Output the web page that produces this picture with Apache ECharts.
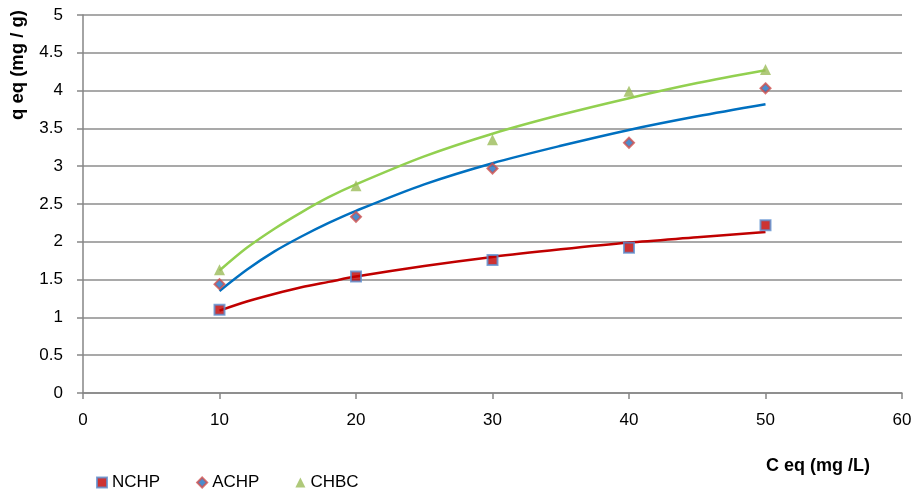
<!DOCTYPE html>
<html>
<head>
<meta charset="utf-8">
<script src="https://cdn.jsdelivr.net/npm/echarts@6/dist/echarts.min.js"></script>
<style>html,body{margin:0;padding:0;background:#fff}#c{width:916px;height:495px}</style>
</head>
<body>
<div id="c"></div>
<script>
const xValues = [10, 20, 30, 40, 50];
const nchp = [1.10, 1.54, 1.76, 1.92, 2.22];
const achp = [1.44, 2.33, 2.97, 3.31, 4.03];
const chbc = [1.63, 2.74, 3.35, 3.99, 4.28];
// trendlines
const trendX = [10, 12, 14, 16, 18, 20, 25, 30, 35, 40, 45, 50];
const trendNchp = [1.09, 1.21, 1.31, 1.40, 1.47, 1.54, 1.68, 1.80, 1.90, 1.99, 2.06, 2.13];
const trendAchp = [1.35, 1.63, 1.87, 2.07, 2.25, 2.41, 2.76, 3.04, 3.27, 3.48, 3.66, 3.82];
const trendChbc = [1.62, 1.92, 2.17, 2.39, 2.59, 2.76, 3.13, 3.43, 3.68, 3.90, 4.10, 4.27];
const seriesNames = ['NCHP', 'ACHP', 'CHBC'];
const xTitle = 'C eq (mg /L)';
const yTitle = 'q eq (mg / g)';

const pair = (xs, ys) => xs.map((x, i) => [x, ys[i]]);
const FONT = 'Liberation Sans';

const chart = echarts.init(document.getElementById('c'), null, {renderer: 'canvas'});
chart.setOption({
  animation: false,
  backgroundColor: '#fff',
  textStyle: {fontFamily: FONT},
  grid: {left: 83, right: 14, top: 15, bottom: 102, containLabel: false},
  xAxis: {
    type: 'value', min: 0, max: 60, interval: 10,
    axisLine: {show: true, lineStyle: {color: '#868686', width: 1.5}},
    axisTick: {show: true, length: 6, lineStyle: {color: '#868686', width: 1.5}},
    axisLabel: {color: '#000', fontSize: 17, margin: 19, fontFamily: FONT},
    splitLine: {show: false}
  },
  yAxis: {
    type: 'value', min: 0, max: 5, interval: 0.5,
    axisLine: {show: true, lineStyle: {color: '#868686', width: 1.5}},
    axisTick: {show: true, length: 6, lineStyle: {color: '#868686', width: 1.5}},
    axisLabel: {color: '#000', fontSize: 17, margin: 20, fontFamily: FONT},
    splitLine: {show: true, lineStyle: {color: '#8c8c8c', width: 1.5}}
  },
  legend: {
    data: [
      {name: 'NCHP', icon: 'rect'},
      {name: 'ACHP', icon: 'diamond'},
      {name: 'CHBC', icon: 'triangle'}
    ],
    left: 96, top: 474, padding: 0, itemWidth: 10, itemHeight: 10, itemGap: 36,
    textStyle: {fontSize: 17, color: '#000', fontFamily: FONT}
  },
  graphic: [
    {type: 'text', left: 8, top: 10, rotation: Math.PI / 2,
      style: {text: yTitle, font: 'bold 18.5px ' + FONT, fill: '#000'}},
    {type: 'text', right: 46, top: 457,
      style: {text: xTitle, font: 'bold 18px ' + FONT, fill: '#000'}}
  ],
  series: [
    {name: 'trend-NCHP', type: 'line', data: pair(trendX, trendNchp), smooth: 0.3, symbol: 'none',
      lineStyle: {color: '#C00000', width: 2.5}, z: 2, silent: true},
    {name: 'trend-ACHP', type: 'line', data: pair(trendX, trendAchp), smooth: 0.3, symbol: 'none',
      lineStyle: {color: '#0070C0', width: 2.5}, z: 2, silent: true},
    {name: 'trend-CHBC', type: 'line', data: pair(trendX, trendChbc), smooth: 0.3, symbol: 'none',
      lineStyle: {color: '#92D050', width: 2.5}, z: 2, silent: true},
    {name: seriesNames[0], type: 'scatter', data: pair(xValues, nchp), symbol: 'rect', symbolSize: 10,
      itemStyle: {color: '#C00000', borderColor: '#5B8FD0', borderWidth: 2}, z: 3},
    {name: seriesNames[1], type: 'scatter', data: pair(xValues, achp), symbol: 'diamond', symbolSize: 10,
      itemStyle: {color: '#1F6FC0', borderColor: '#D0504D', borderWidth: 2}, z: 3},
    {name: seriesNames[2], type: 'scatter', data: pair(xValues, chbc), symbol: 'triangle', symbolSize: 11,
      itemStyle: {color: '#9BBB59'}, z: 3}
  ]
});
</script>
</body>
</html>
